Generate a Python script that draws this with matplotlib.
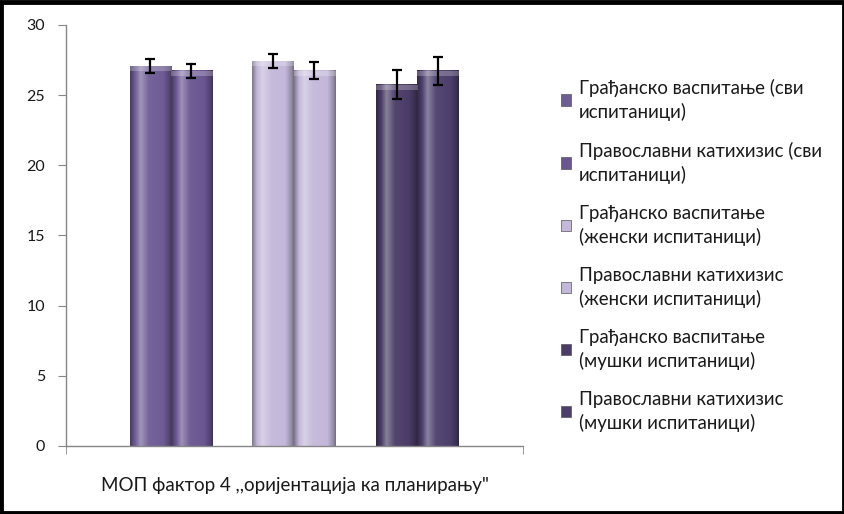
import numpy as np
import matplotlib.pyplot as plt
from matplotlib.patches import Rectangle
from matplotlib.colors import to_rgb

# values
series = ['Грађанско васпитање (сви\nиспитаници)',
          'Православни катихизис (сви\nиспитаници)',
          'Грађанско васпитање\n(женски испитаници)',
          'Православни катихизис\n(женски испитаници)',
          'Грађанско васпитање\n(мушки испитаници)',
          'Православни катихизис\n(мушки испитаници)']
means = [27.05, 26.75, 27.4, 26.75, 25.75, 26.75]
errors = [0.5, 0.5, 0.5, 0.6, 1.05, 1.0]
category = 'МОП фактор 4 ,,оријентација ка планирању"'
bar_colors = ['#6e5c95', '#6a5691', '#c4b8da', '#c4b8da', '#4a3c66', '#4d3f6c']

# bar layout: three pairs inside one category
centers = [0.229 - 0.045, 0.229 + 0.045, 0.498 - 0.045, 0.498 + 0.045,
           0.769 - 0.045, 0.769 + 0.045]
width = 0.09

plt.rcParams['font.family'] = ['Lato', 'DejaVu Sans']

fig = plt.figure(figsize=(8.45, 5.14), dpi=100)
ax = fig.add_axes([0.0781, 0.1323, 0.5408, 0.8191])


def shade(col, t):
    # cylinder-ish profile across the bar
    c = np.array(to_rgb(col))
    prof = np.interp(t, [0, 0.08, 0.25, 0.45, 0.8, 0.95, 1.0],
                     [-0.35, -0.1, 0.35, 0.05, 0.0, -0.25, -0.4])
    out = np.where(prof[:, None] > 0,
                   c + (1 - c) * prof[:, None],
                   c * (1 + prof[:, None]))
    return np.clip(out, 0, 1)


t = np.linspace(0, 1, 60)
for cx, m, col in zip(centers, means, bar_colors):
    img = shade(col, t)[None, :, :]
    ax.imshow(img, extent=[cx - width / 2, cx + width / 2, 0, m],
              aspect='auto', interpolation='bilinear', zorder=2)
    # lighter top face
    top = shade(col, t) * 0.6 + 0.4
    ax.imshow(top[None, :, :], extent=[cx - width / 2, cx + width / 2, m - 0.35, m],
              aspect='auto', interpolation='bilinear', zorder=2.1, alpha=0.6)

ax.errorbar(centers, means, yerr=errors, fmt='none', ecolor='black',
            elinewidth=1.6, capsize=3.8, capthick=1.6, zorder=3)

ax.set_xlim(0, 1)
ax.set_ylim(0, 30)

for s in ['top', 'right']:
    ax.spines[s].set_visible(False)
for s in ['left', 'bottom']:
    ax.spines[s].set_color('#868686')
    ax.spines[s].set_linewidth(1.0)

ax.set_yticks(range(0, 31, 5))
ax.tick_params(axis='y', length=6, color='#868686', labelsize=11.5,
               labelcolor='#1a1a1a', pad=9)
ax.set_xticks([0.5])
ax.set_xticklabels([category])
ax.set_xticks([0, 1], minor=True)
ax.tick_params(axis='x', which='major', length=0, labelsize=13.5,
               labelcolor='#1a1a1a', pad=22)
ax.tick_params(axis='x', which='minor', length=6, color='#868686')

handles = [Rectangle((0, 0), 1, 1, facecolor=c, edgecolor='#555555', linewidth=0.5)
           for c in bar_colors]
leg = fig.legend(handles, series, loc='upper left', bbox_to_anchor=(0.655, 0.862),
                 frameon=False, fontsize=13.4, handlelength=0.55, handleheight=0.55,
                 handletextpad=0.4, labelspacing=1.12, borderaxespad=0)
for txt in leg.get_texts():
    txt.set_color('#1a1a1a')
    txt.set_linespacing(1.4)

fig.patches.append(Rectangle((0.0015, 0.002), 0.997, 0.995, transform=fig.transFigure,
                             fill=False, edgecolor='black', linewidth=3.5))

fig.savefig('out.png', dpi=100)
